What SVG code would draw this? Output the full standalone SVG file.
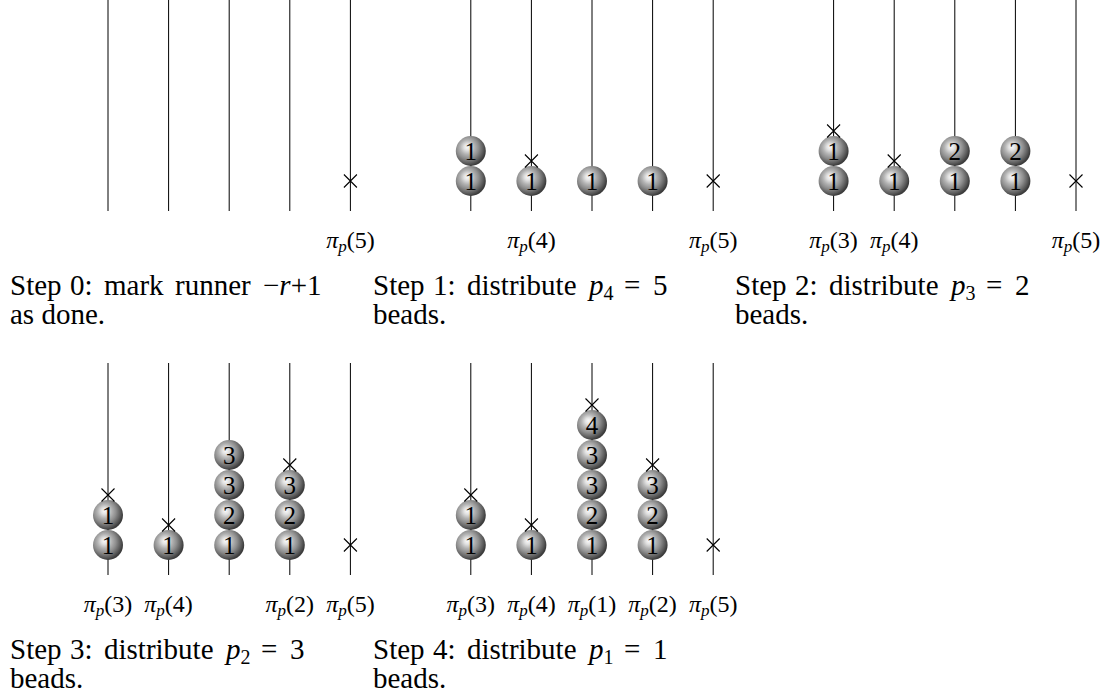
<svg xmlns="http://www.w3.org/2000/svg" width="1107" height="700" viewBox="0 0 1107 700">
  <defs>
    <!-- shaded ball for beads, light spot toward the upper left -->
    <radialGradient id="ball" cx="0.4" cy="0.4" r="0.6" fx="0.38" fy="0.36">
      <stop offset="0" stop-color="#fafafa"/>
      <stop offset="0.18" stop-color="#e2e2e2"/>
      <stop offset="0.4" stop-color="#b2b2b2"/>
      <stop offset="0.62" stop-color="#8e8e8e"/>
      <stop offset="0.85" stop-color="#5e5e5e"/>
      <stop offset="1" stop-color="#3c3c3c"/>
    </radialGradient>
    <style>
      .rod { stroke: #000; stroke-width: 1; fill: none; }
      .mark { stroke: #000; stroke-width: 1.1; fill: none; }
      .bead circle { fill: url(#ball); }
      .bead text { font-family: "Liberation Serif", serif; font-size: 25px; text-anchor: middle; fill: #000; }
      .lbl { font-family: "Liberation Serif", serif; font-size: 24px; text-anchor: middle; fill: #000; }
      .cap { font-family: "Liberation Serif", serif; font-size: 29px; fill: #000; }
      .it { font-style: italic; }
      .sub { font-size: 20px; }
      .lsub { font-size: 17px; }
    </style>
  </defs>

  <!-- ===== Step 0 ===== -->
  <g id="step0">
    <g id="step0-rods">
      <line class="rod" x1="108" y1="0" x2="108" y2="211"/>
      <line class="rod" x1="168.6" y1="0" x2="168.6" y2="211"/>
      <line class="rod" x1="229.2" y1="0" x2="229.2" y2="211"/>
      <line class="rod" x1="289.8" y1="0" x2="289.8" y2="211"/>
      <line class="rod" x1="350.4" y1="0" x2="350.4" y2="211"/>
    </g>
    <g id="step0-marks">
      <path class="mark" d="M343.9 174.5 L356.9 187.5 M356.9 174.5 L343.9 187.5"/>
    </g>
    <g id="step0-labels">
      <text class="lbl" x="350.4" y="248"><tspan class="it">π</tspan><tspan class="it lsub" dy="4">p</tspan><tspan dy="-4">(5)</tspan></text>
    </g>
    <g id="step0-caption" class="cap">
      <text x="10" y="295">Step</text>
      <text x="70" y="295">0:</text>
      <text x="104" y="295">mark</text>
      <text x="175" y="295">runner</text>
      <text x="263" y="295">−<tspan class="it">r</tspan>+1</text>
      <text x="10" y="324">as done.</text>
    </g>
  </g>

  <!-- ===== Step 1 ===== -->
  <g id="step1">
    <g id="step1-rods">
      <line class="rod" x1="470.8" y1="0" x2="470.8" y2="211"/>
      <line class="rod" x1="531.4" y1="0" x2="531.4" y2="211"/>
      <line class="rod" x1="592" y1="0" x2="592" y2="211"/>
      <line class="rod" x1="652.6" y1="0" x2="652.6" y2="211"/>
      <line class="rod" x1="713.2" y1="0" x2="713.2" y2="211"/>
    </g>
    <g id="step1-beads">
      <g class="bead" id="s1-a1"><circle cx="470.8" cy="181" r="15"/><text x="470.8" y="189.5">1</text></g>
      <g class="bead" id="s1-a2"><circle cx="470.8" cy="151" r="15"/><text x="470.8" y="159.5">1</text></g>
      <g class="bead" id="s1-b1"><circle cx="531.4" cy="181" r="15"/><text x="531.4" y="189.5">1</text></g>
      <g class="bead" id="s1-c1"><circle cx="592" cy="181" r="15"/><text x="592" y="189.5">1</text></g>
      <g class="bead" id="s1-d1"><circle cx="652.6" cy="181" r="15"/><text x="652.6" y="189.5">1</text></g>
    </g>
    <g id="step1-marks">
      <path class="mark" d="M524.9 154.5 L537.9 167.5 M537.9 154.5 L524.9 167.5"/>
      <path class="mark" d="M706.7 174.5 L719.7 187.5 M719.7 174.5 L706.7 187.5"/>
    </g>
    <g id="step1-labels">
      <text class="lbl" x="531.4" y="248"><tspan class="it">π</tspan><tspan class="it lsub" dy="4">p</tspan><tspan dy="-4">(4)</tspan></text>
      <text class="lbl" x="713.2" y="248"><tspan class="it">π</tspan><tspan class="it lsub" dy="4">p</tspan><tspan dy="-4">(5)</tspan></text>
    </g>
    <g id="step1-caption" class="cap">
      <text x="373" y="295">Step</text>
      <text x="433" y="295">1:</text>
      <text x="467" y="295">distribute</text>
      <text x="589" y="295"><tspan class="it">p</tspan><tspan class="sub" dy="5">4</tspan></text>
      <text x="624" y="295">=</text>
      <text x="653" y="295">5</text>
      <text x="373" y="324">beads.</text>
    </g>
  </g>

  <!-- ===== Step 2 ===== -->
  <g id="step2">
    <g id="step2-rods">
      <line class="rod" x1="833.6" y1="0" x2="833.6" y2="211"/>
      <line class="rod" x1="894.2" y1="0" x2="894.2" y2="211"/>
      <line class="rod" x1="954.8" y1="0" x2="954.8" y2="211"/>
      <line class="rod" x1="1015.4" y1="0" x2="1015.4" y2="211"/>
      <line class="rod" x1="1076" y1="0" x2="1076" y2="211"/>
    </g>
    <g id="step2-beads">
      <g class="bead" id="s2-a1"><circle cx="833.6" cy="181" r="15"/><text x="833.6" y="189.5">1</text></g>
      <g class="bead" id="s2-a2"><circle cx="833.6" cy="151" r="15"/><text x="833.6" y="159.5">1</text></g>
      <g class="bead" id="s2-b1"><circle cx="894.2" cy="181" r="15"/><text x="894.2" y="189.5">1</text></g>
      <g class="bead" id="s2-c1"><circle cx="954.8" cy="181" r="15"/><text x="954.8" y="189.5">1</text></g>
      <g class="bead" id="s2-c2"><circle cx="954.8" cy="151" r="15"/><text x="954.8" y="159.5">2</text></g>
      <g class="bead" id="s2-d1"><circle cx="1015.4" cy="181" r="15"/><text x="1015.4" y="189.5">1</text></g>
      <g class="bead" id="s2-d2"><circle cx="1015.4" cy="151" r="15"/><text x="1015.4" y="159.5">2</text></g>
    </g>
    <g id="step2-marks">
      <path class="mark" d="M827.1 124.5 L840.1 137.5 M840.1 124.5 L827.1 137.5"/>
      <path class="mark" d="M887.7 154.5 L900.7 167.5 M900.7 154.5 L887.7 167.5"/>
      <path class="mark" d="M1069.5 174.5 L1082.5 187.5 M1082.5 174.5 L1069.5 187.5"/>
    </g>
    <g id="step2-labels">
      <text class="lbl" x="833.6" y="248"><tspan class="it">π</tspan><tspan class="it lsub" dy="4">p</tspan><tspan dy="-4">(3)</tspan></text>
      <text class="lbl" x="894.2" y="248"><tspan class="it">π</tspan><tspan class="it lsub" dy="4">p</tspan><tspan dy="-4">(4)</tspan></text>
      <text class="lbl" x="1076" y="248"><tspan class="it">π</tspan><tspan class="it lsub" dy="4">p</tspan><tspan dy="-4">(5)</tspan></text>
    </g>
    <g id="step2-caption" class="cap">
      <text x="735" y="295">Step</text>
      <text x="795" y="295">2:</text>
      <text x="829" y="295">distribute</text>
      <text x="951" y="295"><tspan class="it">p</tspan><tspan class="sub" dy="5">3</tspan></text>
      <text x="986" y="295">=</text>
      <text x="1015" y="295">2</text>
      <text x="735" y="324">beads.</text>
    </g>
  </g>

  <!-- ===== Step 3 ===== -->
  <g id="step3">
    <g id="step3-rods">
      <line class="rod" x1="108" y1="363" x2="108" y2="575"/>
      <line class="rod" x1="168.6" y1="363" x2="168.6" y2="575"/>
      <line class="rod" x1="229.2" y1="363" x2="229.2" y2="575"/>
      <line class="rod" x1="289.8" y1="363" x2="289.8" y2="575"/>
      <line class="rod" x1="350.4" y1="363" x2="350.4" y2="575"/>
    </g>
    <g id="step3-beads">
      <g class="bead" id="s3-a1"><circle cx="108" cy="545" r="15"/><text x="108" y="553.5">1</text></g>
      <g class="bead" id="s3-a2"><circle cx="108" cy="515" r="15"/><text x="108" y="523.5">1</text></g>
      <g class="bead" id="s3-b1"><circle cx="168.6" cy="545" r="15"/><text x="168.6" y="553.5">1</text></g>
      <g class="bead" id="s3-c1"><circle cx="229.2" cy="545" r="15"/><text x="229.2" y="553.5">1</text></g>
      <g class="bead" id="s3-c2"><circle cx="229.2" cy="515" r="15"/><text x="229.2" y="523.5">2</text></g>
      <g class="bead" id="s3-c3"><circle cx="229.2" cy="485" r="15"/><text x="229.2" y="493.5">3</text></g>
      <g class="bead" id="s3-c4"><circle cx="229.2" cy="455" r="15"/><text x="229.2" y="463.5">3</text></g>
      <g class="bead" id="s3-d1"><circle cx="289.8" cy="545" r="15"/><text x="289.8" y="553.5">1</text></g>
      <g class="bead" id="s3-d2"><circle cx="289.8" cy="515" r="15"/><text x="289.8" y="523.5">2</text></g>
      <g class="bead" id="s3-d3"><circle cx="289.8" cy="485" r="15"/><text x="289.8" y="493.5">3</text></g>
    </g>
    <g id="step3-marks">
      <path class="mark" d="M101.5 488.5 L114.5 501.5 M114.5 488.5 L101.5 501.5"/>
      <path class="mark" d="M162.1 518.5 L175.1 531.5 M175.1 518.5 L162.1 531.5"/>
      <path class="mark" d="M283.3 458.5 L296.3 471.5 M296.3 458.5 L283.3 471.5"/>
      <path class="mark" d="M343.9 538.5 L356.9 551.5 M356.9 538.5 L343.9 551.5"/>
    </g>
    <g id="step3-labels">
      <text class="lbl" x="108" y="612"><tspan class="it">π</tspan><tspan class="it lsub" dy="4">p</tspan><tspan dy="-4">(3)</tspan></text>
      <text class="lbl" x="168.6" y="612"><tspan class="it">π</tspan><tspan class="it lsub" dy="4">p</tspan><tspan dy="-4">(4)</tspan></text>
      <text class="lbl" x="289.8" y="612"><tspan class="it">π</tspan><tspan class="it lsub" dy="4">p</tspan><tspan dy="-4">(2)</tspan></text>
      <text class="lbl" x="350.4" y="612"><tspan class="it">π</tspan><tspan class="it lsub" dy="4">p</tspan><tspan dy="-4">(5)</tspan></text>
    </g>
    <g id="step3-caption" class="cap">
      <text x="10" y="659">Step</text>
      <text x="70" y="659">3:</text>
      <text x="104" y="659">distribute</text>
      <text x="226" y="659"><tspan class="it">p</tspan><tspan class="sub" dy="5">2</tspan></text>
      <text x="261" y="659">=</text>
      <text x="290" y="659">3</text>
      <text x="10" y="688">beads.</text>
    </g>
  </g>

  <!-- ===== Step 4 ===== -->
  <g id="step4">
    <g id="step4-rods">
      <line class="rod" x1="470.8" y1="363" x2="470.8" y2="575"/>
      <line class="rod" x1="531.4" y1="363" x2="531.4" y2="575"/>
      <line class="rod" x1="592" y1="363" x2="592" y2="575"/>
      <line class="rod" x1="652.6" y1="363" x2="652.6" y2="575"/>
      <line class="rod" x1="713.2" y1="363" x2="713.2" y2="575"/>
    </g>
    <g id="step4-beads">
      <g class="bead" id="s4-a1"><circle cx="470.8" cy="545" r="15"/><text x="470.8" y="553.5">1</text></g>
      <g class="bead" id="s4-a2"><circle cx="470.8" cy="515" r="15"/><text x="470.8" y="523.5">1</text></g>
      <g class="bead" id="s4-b1"><circle cx="531.4" cy="545" r="15"/><text x="531.4" y="553.5">1</text></g>
      <g class="bead" id="s4-c1"><circle cx="592" cy="545" r="15"/><text x="592" y="553.5">1</text></g>
      <g class="bead" id="s4-c2"><circle cx="592" cy="515" r="15"/><text x="592" y="523.5">2</text></g>
      <g class="bead" id="s4-c3"><circle cx="592" cy="485" r="15"/><text x="592" y="493.5">3</text></g>
      <g class="bead" id="s4-c4"><circle cx="592" cy="455" r="15"/><text x="592" y="463.5">3</text></g>
      <g class="bead" id="s4-c5"><circle cx="592" cy="425" r="15"/><text x="592" y="433.5">4</text></g>
      <g class="bead" id="s4-d1"><circle cx="652.6" cy="545" r="15"/><text x="652.6" y="553.5">1</text></g>
      <g class="bead" id="s4-d2"><circle cx="652.6" cy="515" r="15"/><text x="652.6" y="523.5">2</text></g>
      <g class="bead" id="s4-d3"><circle cx="652.6" cy="485" r="15"/><text x="652.6" y="493.5">3</text></g>
    </g>
    <g id="step4-marks">
      <path class="mark" d="M464.3 488.5 L477.3 501.5 M477.3 488.5 L464.3 501.5"/>
      <path class="mark" d="M524.9 518.5 L537.9 531.5 M537.9 518.5 L524.9 531.5"/>
      <path class="mark" d="M585.5 398.5 L598.5 411.5 M598.5 398.5 L585.5 411.5"/>
      <path class="mark" d="M646.1 458.5 L659.1 471.5 M659.1 458.5 L646.1 471.5"/>
      <path class="mark" d="M706.7 538.5 L719.7 551.5 M719.7 538.5 L706.7 551.5"/>
    </g>
    <g id="step4-labels">
      <text class="lbl" x="470.8" y="612"><tspan class="it">π</tspan><tspan class="it lsub" dy="4">p</tspan><tspan dy="-4">(3)</tspan></text>
      <text class="lbl" x="531.4" y="612"><tspan class="it">π</tspan><tspan class="it lsub" dy="4">p</tspan><tspan dy="-4">(4)</tspan></text>
      <text class="lbl" x="592" y="612"><tspan class="it">π</tspan><tspan class="it lsub" dy="4">p</tspan><tspan dy="-4">(1)</tspan></text>
      <text class="lbl" x="652.6" y="612"><tspan class="it">π</tspan><tspan class="it lsub" dy="4">p</tspan><tspan dy="-4">(2)</tspan></text>
      <text class="lbl" x="713.2" y="612"><tspan class="it">π</tspan><tspan class="it lsub" dy="4">p</tspan><tspan dy="-4">(5)</tspan></text>
    </g>
    <g id="step4-caption" class="cap">
      <text x="373" y="659">Step</text>
      <text x="433" y="659">4:</text>
      <text x="467" y="659">distribute</text>
      <text x="589" y="659"><tspan class="it">p</tspan><tspan class="sub" dy="5">1</tspan></text>
      <text x="624" y="659">=</text>
      <text x="653" y="659">1</text>
      <text x="373" y="688">beads.</text>
    </g>
  </g>
</svg>
